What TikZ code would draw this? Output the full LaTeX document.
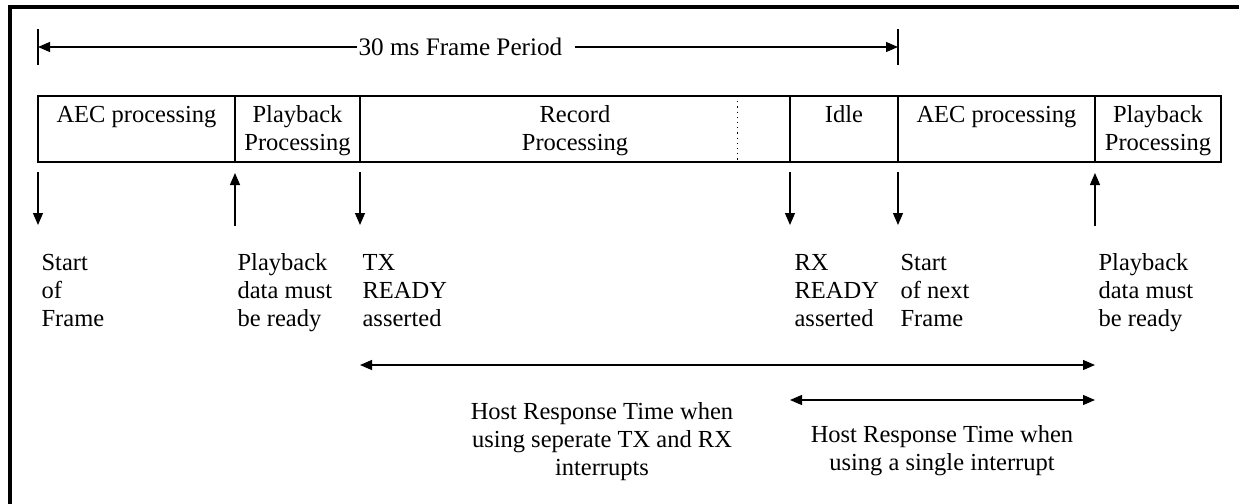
\documentclass[tikz,border=0pt]{standalone}
\usepackage{fontspec}
\setmainfont{Liberation Serif}
\usetikzlibrary{arrows.meta}
\newcommand\mylines[2][l]{\begin{tabular}[t]{@{}#1@{}}#2\end{tabular}}
\begin{document}
\begin{tikzpicture}[x=0.5pt,y=-0.5pt,
  every node/.style={inner sep=0pt, font=\fontsize{12.25}{14}\selectfont},
  every path/.style={line width=0.6pt},
  tipend/.style={-{Triangle[length=6pt,width=5pt]}},
  twotips/.style={{Triangle[length=6pt,width=5pt]}-{Triangle[length=6pt,width=5pt]}},
  frameline/.style={line width=2pt},
  txt/.style={anchor=base},
  lbl/.style={anchor=base west}]
\useasboundingbox (0,0) rectangle (1239,504);
% outer frame (top and left only)
\draw[frameline] (10,504) -- (10,7) -- (1239,7);

% 30 ms frame period
\coordinate (t1a) at (38,29); \coordinate (t1b) at (38,65);
\coordinate (t2a) at (898,29); \coordinate (t2b) at (898,65);
\draw (t1a) -- (t1b);
\draw (t2a) -- (t2b);
\node[anchor=base west, font=\fontsize{12.6}{14}\selectfont] (period) at (358,55) {30 ms Frame Period};
\coordinate (pl) at (38,47); \coordinate (pr) at (898,47);
\coordinate (pls) at (357,47); \coordinate (prs) at (575,47);
\draw[tipend] (pls) -- (pl);
\draw[tipend] (prs) -- (pr);

% frame boxes
\draw (38,96) rectangle (1221,162);
\foreach \xx in {235,360,790,898,1095} \draw (\xx,96) -- (\xx,162);
\draw[dotted, line width=0.5pt] (737,96) -- (737,162);

\node[txt] (aec1) at (136.5,122) {AEC processing};
\node[txt] (pb1) at (297.5,122) {\mylines[c]{Playback\\Processing}};
\node[txt] (rec) at (575,122) {\mylines[c]{Record\\Processing}};
\node[txt] (idle) at (844,122) {Idle};
\node[txt] (aec2) at (996.5,122) {AEC processing};
\node[txt] (pb2) at (1158,122) {\mylines[c]{Playback\\Processing}};

% event arrows
\draw[tipend] (38,172) -- (38,225);
\draw[tipend] (235,226) -- (235,173);
\draw[tipend] (360,172) -- (360,225);
\draw[tipend] (790,172) -- (790,225);
\draw[tipend] (898,172) -- (898,225);
\draw[tipend] (1095,226) -- (1095,173);

% event labels
\node[lbl] (sof) at (41,270) {\mylines{Start\\of\\Frame}};
\node[lbl] (pbr1) at (237,270) {\mylines{Playback\\data must\\be ready}};
\node[lbl] (txr) at (362,270) {\mylines{TX\\READY\\asserted}};
\node[lbl] (rxr) at (794,270) {\mylines{RX\\READY\\asserted}};
\node[lbl] (sonf) at (900,270) {\mylines{Start\\of next\\Frame}};
\node[lbl] (pbr2) at (1098,270) {\mylines{Playback\\data must\\be ready}};

% host response times
\coordinate (la) at (360,365); \coordinate (lb) at (1095,365);
\draw[twotips] (la) -- (lb);
\coordinate (sa) at (790,400); \coordinate (sb) at (1095,400);
\draw[twotips] (sa) -- (sb);
\node[txt] (hl) at (602,419) {\mylines[c]{Host Response Time when\\using seperate TX and RX\\interrupts}};
\node[txt] (hr) at (942,442) {\mylines[c]{Host Response Time when\\using a single interrupt}};
\end{tikzpicture}
\end{document}
